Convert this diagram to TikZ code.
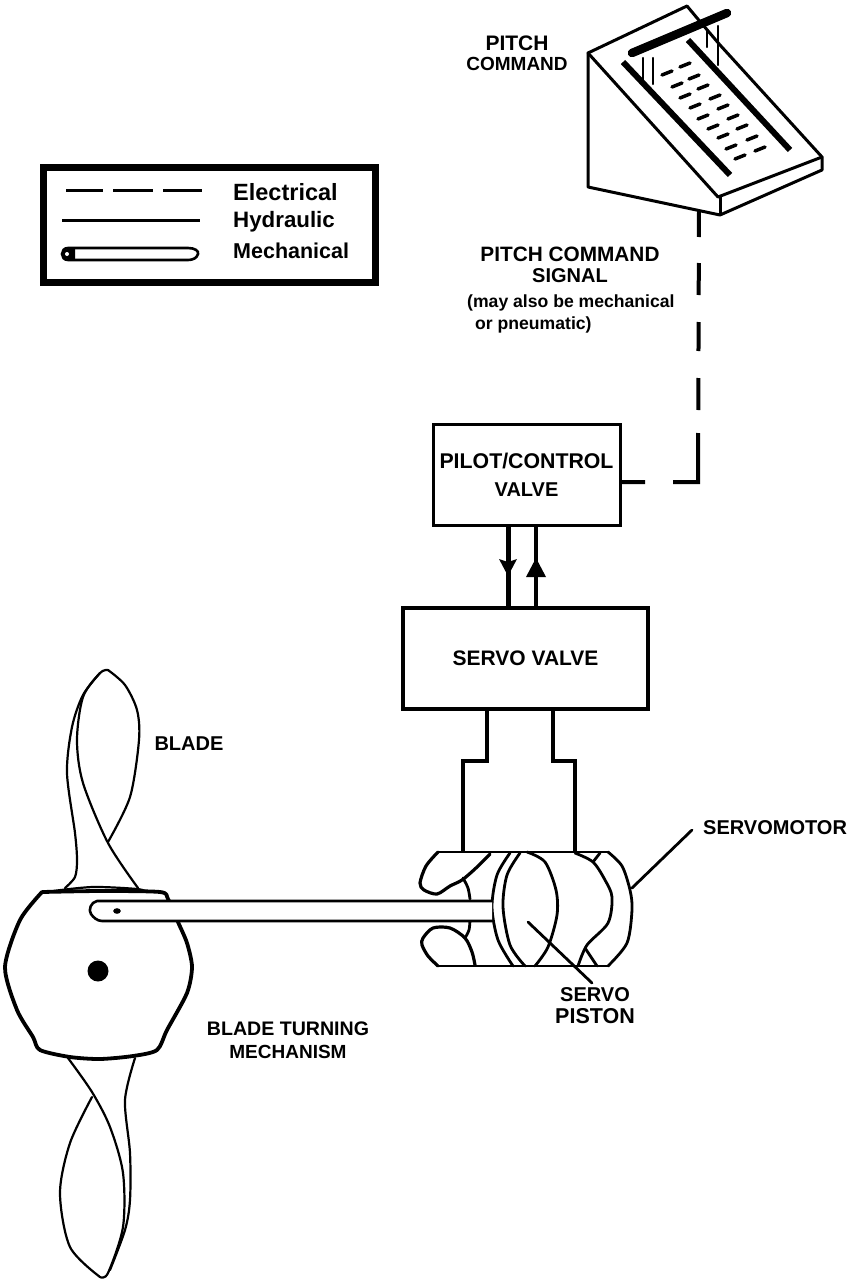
\documentclass[tikz,border=0pt]{standalone}
\usepackage{fontspec}
\setmainfont{Liberation Sans}
\newcommand{\fA}{\fontsize{20}{20}\selectfont\bfseries}
\newcommand{\fB}{\fontsize{19.5}{20}\selectfont\bfseries}
\newcommand{\fC}{\fontsize{17.6}{22}\selectfont\bfseries}
\newcommand{\fS}[1]{\fontsize{#1}{20}\selectfont\bfseries}
\tikzset{
  txt/.style={inner sep=0pt,align=center,text=black},
  box/.style={draw=black,line width=3.5pt,fill=white,inner sep=0pt,align=center},
  ink/.style={draw=black,line width=2.8pt,line join=round,line cap=round},
  thin ink/.style={draw=black,line width=2.2pt,line join=round,line cap=round},
  heavy/.style={draw=black,line width=8.5pt,line cap=round},
  pipe/.style={draw=black,line width=4pt,line join=miter},
  sig/.style={draw=black,line width=4pt},
  slot/.style={draw=black,line width=3.5pt,line cap=round},
}
\begin{document}
\begin{tikzpicture}[x=1pt,y=-1pt]
\useasboundingbox (0,0) rectangle (853,1279);
% legend
\node[draw=black,line width=7pt,minimum width=332pt,minimum height=115pt,inner sep=0pt] (legend) at (209.5,224.5) {};
\draw[sig,line width=3pt,dash pattern=on 37pt off 10pt on 40pt off 10pt on 39pt] (66,190) -- (202,190);
\draw[line width=3pt] (62,220) -- (200,220);
\draw[line width=2.6pt] (68,248) -- (188,248) .. controls (195,248) and (199,251) .. (198,254) .. controls (197,258) and (193,260) .. (188,260) -- (68,260) .. controls (60,260) and (60,248) .. (68,248) -- cycle;
\fill (68,249) .. controls (60,249) and (60,259) .. (68,259) -- (75,259) -- (75,249) -- cycle;
\fill[white] (67,254) circle (2pt);
\node[txt,anchor=west,align=left] (l1) at (233,192) {\fS{23.5}Electrical};
\node[txt,anchor=west,align=left] (l2) at (233,222) {\fS{22.3}Hydraulic};
\node[txt,anchor=west,align=left] (l3) at (233,251) {\fS{21.5}Mechanical};
% console
\draw[ink,line width=3pt,fill=white] (588,53) -- (687,6) -- (697,18) -- (720,45) -- (822,157) -- (822,170) -- (720,215) -- (588,187) -- cycle;
\draw[ink,line width=3pt] (588,53) -- (718,197) -- (822,157);
\draw[ink,line width=3pt] (720,197) -- (720,214);
\foreach \a/\b in {643/80,653/84}{\draw[thin ink] (\a,58) -- (\a,\b);}
\foreach \a/\b/\c in {707/30/47,718/26/65}{\draw[thin ink] (\a,\b) -- (\a,\c);}
\draw[slot,line width=6pt,line cap=butt] (623,62) -- (730,175);
\draw[slot,line width=6pt,line cap=butt] (688,40) -- (790,150);
\draw[heavy] (632,53) -- (727,13);
\foreach \p/\q in {667/73,677/85,685/96,695/106,703/117,713/127,723/136,731/147,740/157,685/65,694/77,703/87,715/97,723/107,733/117,742/127,752/138,760/149}{
  \draw[slot] (\p-5,\q+2) -- (\p+5,\q-2);}
\coordinate (stem) at (699,210);
\node[txt] (pc) at (517,53) {\fS{21}PITCH\\[6pt]\fS{19}COMMAND};
% pilot
\node[box,line width=3pt,minimum width=187pt,minimum height=101pt] (pilot) at (526.5,474.5) {\fS{21.3}PILOT/CONTROL\\[13pt]\fA VALVE};
\coordinate (corner) at (698,482);
\draw[sig,dash pattern=on 27pt off 26pt on 32pt off 27pt on 29pt off 27pt on 32pt off 23pt on 74pt off 28pt on 23pt] (stem) -- (corner) -- (pilot.east |- corner);
\node[txt] (sg) at (570,265) {\fS{20.8}PITCH COMMAND\\[6pt]\fA SIGNAL};
\node[txt,anchor=west,align=left] (sg2) at (467,314) {\fC (may also be mechanical\\[4pt]\fC\hspace{8pt}or pneumatic)};
% servo valve
\node[box,minimum width=245pt,minimum height=101pt] (servo) at (525.5,658.5) {\fS{21}SERVO VALVE};
\draw[line width=5pt] (pilot.south -| 508,0) -- (servo.north -| 508,0);
\draw[line width=3.5pt] (pilot.south -| 536,0) -- (servo.north -| 536,0);
\fill (499,559) -- (508,576) -- (517,559) -- (508,562) -- cycle;
\fill (526,577) -- (536,558) -- (546,577) -- cycle;
% cylinder connection
\coordinate (cylL) at (463,852);
\coordinate (cylR) at (575,852);
\draw[pipe] (servo.south -| 487,0) -- (487,761) -- (463,761) -- (cylL);
\draw[pipe,line width=4.6pt] (servo.south -| 553,0) -- (553,761) -- (575,761) -- (cylR);
% servomotor
\draw[ink] (438,852) -- (608,852);
\draw[ink] (438,966) -- (608,966);
\draw[ink] plot[smooth] coordinates {(608,852) (622,866) (630,890) (632,910) (627,943) (608,966)};
\draw[ink,line width=3.2pt] plot[smooth] coordinates {(490,854) (476,868) (462,880) (450,886) (437,894) (424,890) (420,883) (426,866) (438,852)};
\draw[ink,line width=3.2pt] plot[smooth] coordinates {(475,965) (472,952) (465,938) (450,928) (433,928) (423,938) (422,945) (428,956) (438,966)};
\draw[ink] plot[smooth] coordinates {(463,878) (468,888) (470,899)};
\draw[ink] plot[smooth] coordinates {(470,920) (469,930) (465,938)};
\draw[ink] plot[smooth] coordinates {(510,853) (497,875) (492,907) (498,940) (513,966)};
\draw[ink] plot[smooth] coordinates {(520,853) (507,875) (503,907) (510,945) (525,966)};
\draw[ink] plot[smooth] coordinates {(527,852) (545,862) (556,890) (557,915) (548,947) (535,966)};
\draw[ink] plot[smooth] coordinates {(575,853) (593,862) (605,880) (612,897) (608,923) (587,945) (578,966)};
\draw[ink] (593,862) -- (600,853);
\draw[ink] (585,948) -- (597,966);
% hub
\draw[ink,line width=3.8pt,fill=white] plot[smooth,tension=0.45] coordinates {(42,892) (20,920) (5,967) (17,1010) (33,1037) (40,1050) (70,1057) (100,1059) (133,1056) (157,1050) (167,1030) (187,993) (192,967) (187,943) (178,922) (168,899) (160,892) (100,891) (42,892)};
\fill (98,971) circle (10.5pt);
\draw[thin ink] plot[smooth] coordinates {(53,891) (93,887) (137,889) (147,892)};
% blades
\draw[thin ink] plot[smooth] coordinates {(108,670) (125,685) (137,710) (139,740) (130,797) (108,842)};
\draw[thin ink] plot[smooth] coordinates {(108,670) (100,673) (83,697) (77,740) (83,783) (108,843) (138,888)};
\draw[thin ink] plot[smooth] coordinates {(100,673) (83,695) (72,727) (67,773) (75,833) (77,860) (75,877) (65,888)};
\draw[thin ink] plot[smooth] coordinates {(68,1058) (92,1092) (110,1127) (123,1173) (123,1227) (108,1273) (100,1277)};
\draw[thin ink] plot[smooth] coordinates {(92,1097) (70,1143) (60,1193) (70,1247) (100,1277)};
\draw[thin ink] plot[smooth] coordinates {(135,1058) (125,1100) (130,1153) (130,1200) (125,1230) (110,1270)};
% rod
\coordinate (rodEnd) at (492,910);
\draw[thin ink,line width=2.6pt,fill=white] (492,901) -- (97,901) .. controls (91,902) and (88,910) .. (91,914) .. controls (93,917) and (97,921) .. (102,921) -- (492,921);
\fill (117,911) ellipse (3.8pt and 2.8pt);
% leaders
\coordinate (sp1) at (528,922);
\coordinate (sp2) at (592,983);
\draw[ink] (sp1) -- (sp2);
\coordinate (sm1) at (632,888);
\coordinate (sm2) at (692,830);
\draw[ink] (sm1) -- (sm2);
% labels
\node[txt] (bl) at (189,744) {\fA BLADE};
\node[txt] (bt) at (288,1040) {\fS{19.6}BLADE TURNING\\[9pt]\fS{19}MECHANISM};
\node[txt] (sp) at (595,1006) {\fA SERVO\\[6pt]\fS{21.5}PISTON};
\node[txt,anchor=west] (sm) at (703,828) {\fA SERVOMOTOR};
\end{tikzpicture}
\end{document}
